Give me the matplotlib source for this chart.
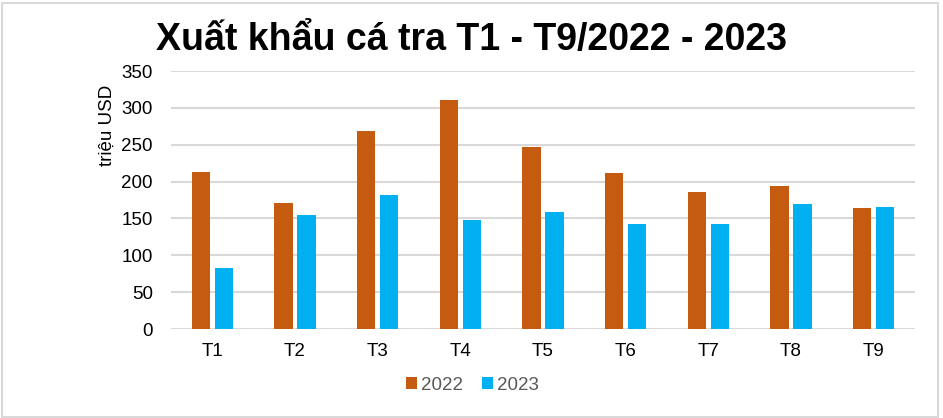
import numpy as np
import matplotlib.pyplot as plt
from matplotlib.patches import Rectangle

months = ["T1", "T2", "T3", "T4", "T5", "T6", "T7", "T8", "T9"]
val_2022 = [213, 171, 268, 310, 247, 212, 186, 194, 164]
val_2023 = [83, 155, 182, 148, 159, 142, 142, 170, 166]
years = ["2022", "2023"]

plt.rcParams['font.family'] = ['Liberation Sans', 'DejaVu Sans']

fig = plt.figure(figsize=(9.43, 4.18), dpi=100)
ax = fig.add_axes([171 / 943, 1 - 329 / 418, 744 / 943, 258 / 418])

x = np.arange(len(months))
w = 0.22
ax.bar(x - 0.139, val_2022, w, color="#C55A11", label=years[0], zorder=3)
ax.bar(x + 0.139, val_2023, w, color="#00B0F0", label=years[1], zorder=3)

ax.set_xlim(-0.5, len(months) - 0.5)
ax.set_ylim(0, 350)
ax.set_yticks(range(0, 351, 50))
ax.set_xticks(x)
ax.set_xticklabels(months)
ax.yaxis.grid(True, color="#D9D9D9", linewidth=1.5, zorder=0)
ax.tick_params(axis="y", length=0, labelsize=13.5, colors="#000000", pad=13)
ax.tick_params(axis="x", length=0, labelsize=13.5, colors="#000000", pad=10)
for s in ax.spines.values():
    s.set_visible(False)
ax.set_ylabel("triệu USD", fontsize=13.5)
ax.yaxis.set_label_coords(-0.074, 0.79)

fig.text(0.5, 0.905, "Xuất khẩu cá tra T1 - T9/2022 - 2023",
         ha="center", va="center", fontsize=27, fontweight="bold")

ax.legend(loc="upper center", bbox_to_anchor=(0.405, -0.12), ncol=2, frameon=False,
          fontsize=13.5, labelcolor="#595959", handlelength=0.6, handleheight=0.6,
          handletextpad=0.2, columnspacing=1.0)

fig.patches.append(Rectangle((0.002, 0.002), 0.993, 0.99, transform=fig.transFigure,
                             fill=False, edgecolor="#D9D9D9", linewidth=1.5))

fig.savefig("out.png", dpi=100)
